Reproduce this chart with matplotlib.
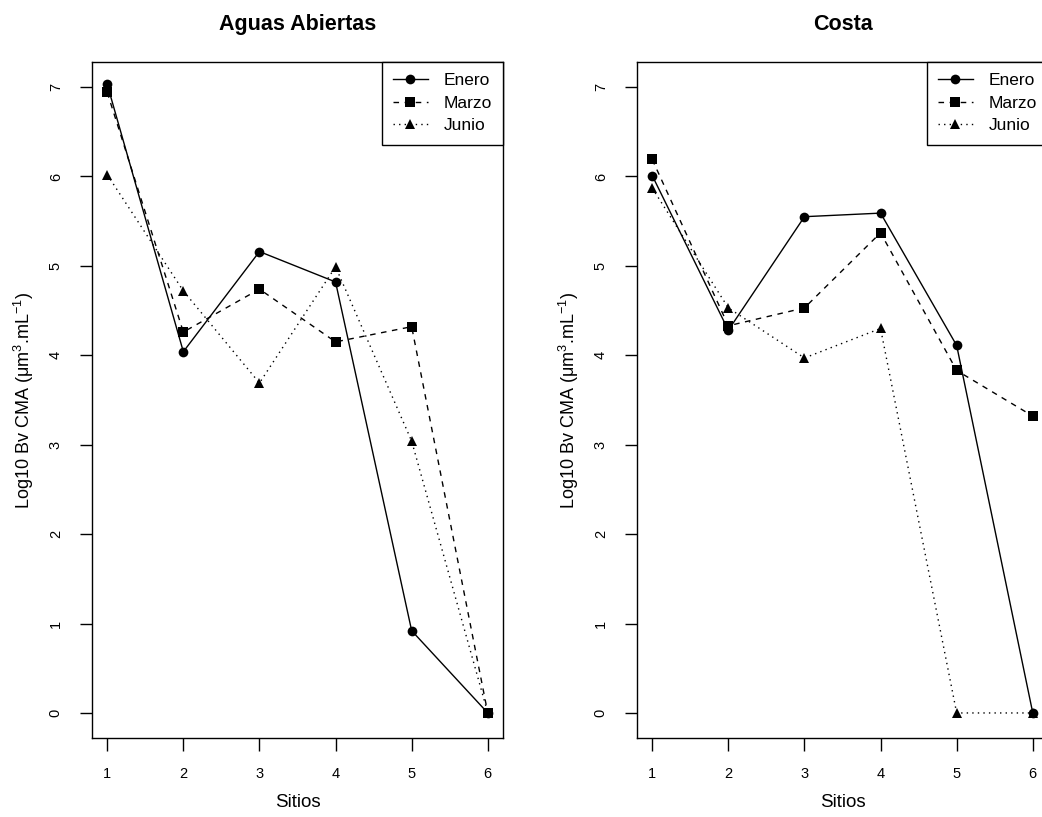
import matplotlib.pyplot as plt

plt.rcParams['font.family'] = ['Liberation Sans', 'DejaVu Sans']
plt.rcParams['mathtext.fontset'] = 'custom'
plt.rcParams['mathtext.rm'] = 'Liberation Sans'
plt.rcParams['mathtext.it'] = 'Liberation Sans:italic'

sitios = [1, 2, 3, 4, 5, 6]
meses = ["Enero", "Marzo", "Junio"]

# Aguas Abiertas
aa_enero = [7.03, 4.04, 5.16, 4.82, 0.92, 0.0]
aa_marzo = [6.94, 4.26, 4.74, 4.15, 4.32, 0.0]
aa_junio = [6.02, 4.72, 3.69, 4.99, 3.04, 0.0]

# Costa
co_enero = [6.01, 4.28, 5.55, 5.59, 4.11, 0.0]
co_marzo = [6.19, 4.33, 4.53, 5.37, 3.83, 3.32]
co_junio = [5.87, 4.53, 3.97, 4.30, 0.0, 0.0]

estilos = [
    dict(marker="o", linestyle="-", markersize=7),
    dict(marker="s", linestyle=(0, (4, 4)), markersize=6.5),
    dict(marker="^", linestyle=(0, (1, 3)), markersize=7),
]

fig = plt.figure(figsize=(10.42, 8.17), dpi=100)

W, H = 1042, 817
panels = [
    ("Aguas Abiertas", 92, [aa_enero, aa_marzo, aa_junio]),
    ("Costa", 637, [co_enero, co_marzo, co_junio]),
]

for titulo, x0, series in panels:
    ax = fig.add_axes([x0 / W, (H - 738) / H, 411 / W, 676 / H])
    for vals, nombre, st in zip(series, meses, estilos):
        ax.plot(sitios, vals, color="black", linewidth=1, label=nombre,
                markeredgewidth=0, clip_on=False, **st)
    ax.set_xlim(0.8, 6.2)
    ax.set_ylim(-0.28, 7.28)
    ax.set_xticks(sitios)
    ax.set_yticks(range(0, 8))
    ax.tick_params(direction="out", length=9, width=1, labelsize=10.5, pad=12)
    for lab in ax.get_yticklabels():
        lab.set_rotation(90)
        lab.set_va("center")
    for s in ax.spines.values():
        s.set_linewidth(1)
    ax.set_title(titulo, fontsize=15.5, fontweight="bold", pad=23)
    ax.set_xlabel("Sitios", fontsize=13.5, labelpad=9)
    ax.set_ylabel(r"Log10 Bv CMA ($\mathrm{\mu}$m$^{3}$.mL$^{-1}$)", fontsize=13, labelpad=9)
    leg = ax.legend(loc="upper right", borderaxespad=0, fancybox=False,
                    edgecolor="black", framealpha=1, fontsize=12.5,
                    handlelength=2.0, borderpad=0.65, labelspacing=0.42,
                    handletextpad=0.9)
    leg.get_frame().set_linewidth(1)

plt.savefig("out.png", dpi=100)
plt.close()
